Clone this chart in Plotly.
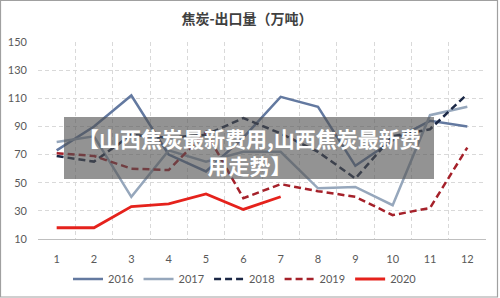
import plotly.graph_objects as go

months = ["1", "2", "3", "4", "5", "6", "7", "8", "9", "10", "11", "12"]
s2016 = [73, 90, 112, 70, 58, 82, 111, 104, 62, 80, 94, 90]
s2017 = [79, 83, 40, 73, 65, 72, 72, 46, 47, 34, 98, 104]
s2018 = [69, 65, 84, 82, 84, 96, 85, 72, 53, 83, 88, 113]
s2019 = [71, 69, 60, 59, 86, 39, 49, 44, 40, 27, 32, 75]
s2020 = [18, 18, 33, 35, 42, 31, 40]
y_ticks = [10, 30, 50, 70, 90, 110, 130, 150]

title_text = "焦炭-出口量（万吨）"
banner_text = "【山西焦炭最新费用,山西焦炭最新费<br>用走势】"

W, H = 500, 298
L, R, T, B = 38, 14, 42, 59
PW, PH = W - L - R, H - T - B

def px(x):
    return (x - L) / PW

def py(y):
    return (H - B - y) / PH

fig = go.Figure()
series = [
    ("2016", s2016, "#6379a0", "solid", 2.5),
    ("2017", s2017, "#96a7bc", "solid", 2.5),
    ("2018", s2018, "#1b2846", "7px,4px", 2.5),
    ("2019", s2019, "#a5212a", "7px,4px", 2.5),
    ("2020", s2020, "#e5221c", "solid", 2.8),
]
for name, vals, color, dash, w in series:
    fig.add_trace(go.Scatter(
        x=months[:len(vals)], y=vals, name=name, mode="lines",
        line=dict(color=color, width=w, dash=dash),
    ))

tick_font = dict(family="Lato, Liberation Sans, sans-serif", size=11, color="#595959")

fig.update_layout(
    width=W, height=H,
    margin=dict(l=L, r=R, t=T, b=B),
    paper_bgcolor="white", plot_bgcolor="white",
    title=dict(text="<b>" + title_text + "</b>", x=0.494, xanchor="center",
               y=1 - 19 / H, yanchor="middle", yref="container",
               font=dict(family="Noto Sans CJK SC", size=14, color="#404040")),
    xaxis=dict(type="category", categoryorder="array", categoryarray=months,
               range=[-0.5, len(months) - 0.5],
               tickson="boundaries", showgrid=True,
               gridcolor="#d9d9d9", griddash="4px,3px", gridwidth=1,
               showline=True, linecolor="#bfbfbf", linewidth=1,
               ticks="", tickfont=tick_font, ticklabelstandoff=10,
               zeroline=False, automargin=False),
    yaxis=dict(range=[10, 150], tickvals=y_ticks, showgrid=True,
               gridcolor="#d9d9d9", griddash="4px,3px", gridwidth=1,
               zeroline=False, showline=False, ticks="",
               tickfont=tick_font, ticklabelstandoff=10, automargin=False),
    legend=dict(orientation="h", xref="container", yref="container",
                x=0.49, xanchor="center", y=1 - 279 / H, yanchor="middle",
                font=tick_font, itemwidth=30, tracegroupgap=0,
                bgcolor="rgba(0,0,0,0)"),
    showlegend=True,
)

fig.add_shape(type="rect", xref="paper", yref="paper",
              x0=px(64), x1=px(434), y0=py(179), y1=py(117),
              fillcolor="rgba(80,80,80,0.62)", line=dict(width=0), layer="above")
fig.add_annotation(xref="paper", yref="paper", x=px(249), y=py(151),
                   text="<b>" + banner_text + "</b>", showarrow=False,
                   font=dict(family="Noto Sans CJK SC", size=21, color="white"),
                   align="center", xanchor="center", yanchor="middle")
fig.add_shape(type="rect", xref="paper", yref="paper",
              x0=px(0.5), x1=px(497.5), y0=py(297), y1=py(0.5),
              line=dict(color="#a0a0a0", width=1.2), fillcolor="rgba(0,0,0,0)",
              layer="above")

fig.write_html("out.html")
